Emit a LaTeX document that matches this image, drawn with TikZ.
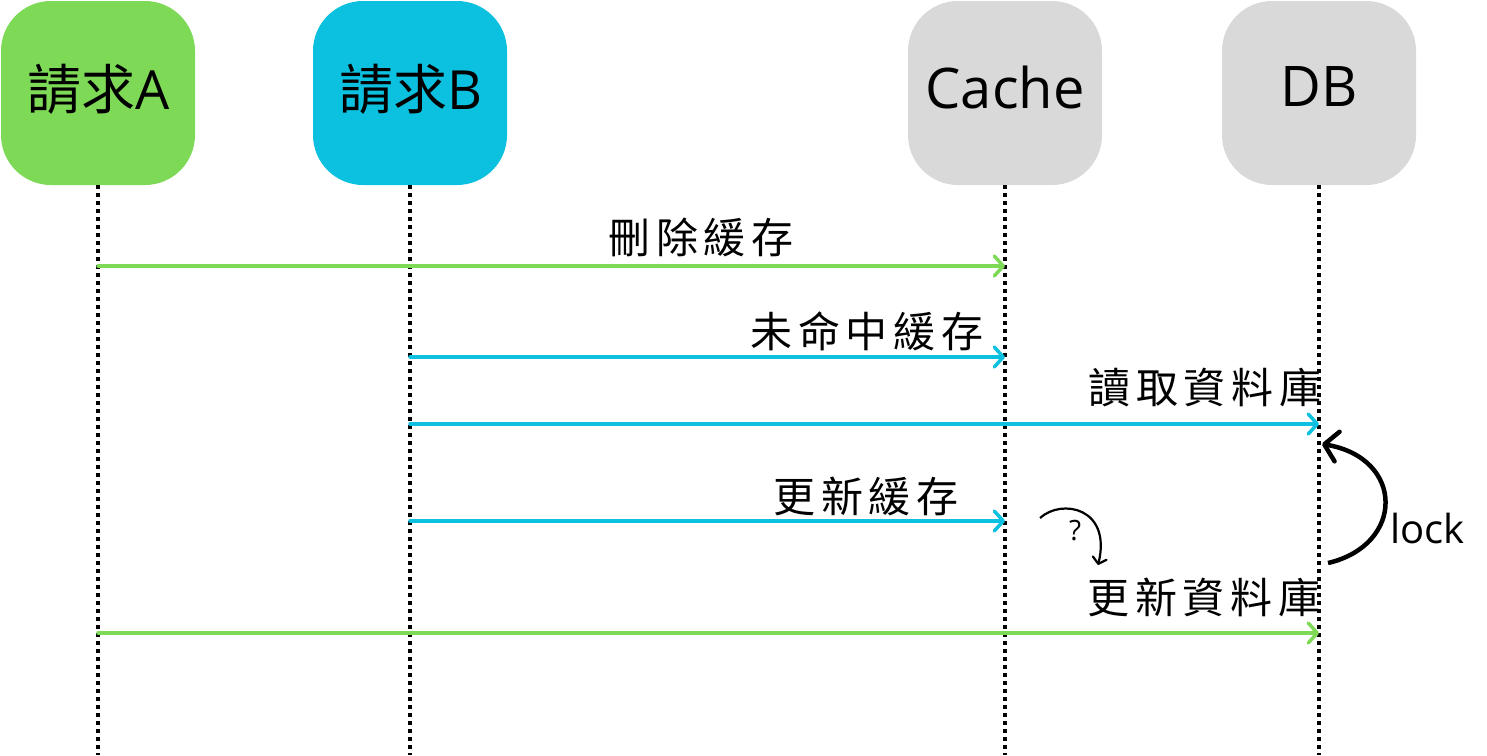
\documentclass[tikz,border=0pt]{standalone}
\usepackage{fontspec}
\setmainfont{Open Sans}
\newfontfamily\cjk{Noto Sans CJK TC}
\newfontfamily\labfont[LetterSpace=14]{Noto Sans CJK TC}
\usetikzlibrary{arrows.meta}
\definecolor{reqa}{HTML}{7ED957}
\definecolor{reqb}{HTML}{0CC0DF}
\definecolor{srv}{HTML}{D9D9D9}
\begin{document}
\begin{tikzpicture}[x=1pt,y=-1pt]

\tikzset{box/.style={rounded corners=50pt,minimum width=194pt,minimum height=184pt,inner sep=0pt}}
\tikzset{boxtext/.style={inner sep=0pt,font=\fontsize{54}{60}\selectfont}}
\tikzset{life/.style={draw,line width=3.5pt,dash pattern=on 3.5pt off 4.5pt}}
\tikzset{msg/.style={draw,line width=3.5pt,line cap=round,-{Straight Barb[length=9pt,width=20pt,line width=3.5pt,round]}}}
\tikzset{lab/.style={font=\labfont\fontsize{42}{50}\selectfont,inner sep=0pt}}

\useasboundingbox (0,0) rectangle (1487,755);

\node[box,fill=reqa] (a) at (98,93) {};
\node[box,fill=reqb] (b) at (410,93) {};
\node[box,fill=srv] (c) at (1005,93) {};
\node[box,fill=srv] (d) at (1319,93) {};
\node[boxtext] (ta) at (99,89) {{\cjk 請求}A};
\node[boxtext] (tb) at (411,89) {{\cjk 請求}B};
\node[boxtext,font=\fontsize{56}{62}\selectfont] (tc) at (1005,87) {Cache};
\node[boxtext,font=\fontsize{56}{62}\selectfont] (td) at (1319,87) {DB};

\coordinate (a0) at (98,755);
\coordinate (b0) at (410,755);
\coordinate (c0) at (1005,755);
\coordinate (d0) at (1319,755);

\path[life] (a.south) to (a0);
\path[life] (b.south) to (b0);
\path[life] (c.south) to (c0);
\path[life] (d.south) to (d0);

% messages
\coordinate (a1) at (98,266);
\coordinate (c1) at (1005,266);
\coordinate (b2) at (410,357);
\coordinate (c2) at (1005,357);
\coordinate (b3) at (410,424);
\coordinate (d3) at (1319,424);
\coordinate (b4) at (410,521);
\coordinate (c4) at (1005,521);
\coordinate (a5) at (98,633);
\coordinate (d5) at (1319,633);

\path[msg,reqa] (a1) to (c1);
\path[msg,reqb] (b2) to (c2);
\path[msg,reqb] (b3) to (d3);
\path[msg,reqb] (b4) to (c4);
\path[msg,reqa] (a5) to (d5);

\node[lab] (l1) at (701,237) {刪除緩存};
\node[lab] (l2) at (867,331) {未命中緩存};
\node[lab] (l3) at (1205,388) {讀取資料庫};
\node[lab] (l4) at (866,496) {更新緩存};
\node[lab] (l5) at (1204,597) {更新資料庫};

% lock
\coordinate (k0) at (1328,563);
\coordinate (k1) at (1322,444);
\draw[line width=4.5pt,-{Straight Barb[length=13pt,width=30pt,line width=4.5pt,round]}]
  (k0) .. controls (1405,545) and (1405,458) .. (k1);
\node[font=\fontsize{40}{46}\selectfont,anchor=west] (lock) at (1387,528) {lock};

% ?
\coordinate (q0) at (1040,518);
\coordinate (q1) at (1098,565);
\draw[line width=2.2pt,-{Straight Barb[length=6pt,width=14pt,line width=2.2pt,round]}]
  (q0) .. controls (1062,498) and (1112,508) .. (q1);
\node[font=\fontsize{28}{32}\selectfont] (q) at (1075,531) {?};

\end{tikzpicture}
\end{document}
